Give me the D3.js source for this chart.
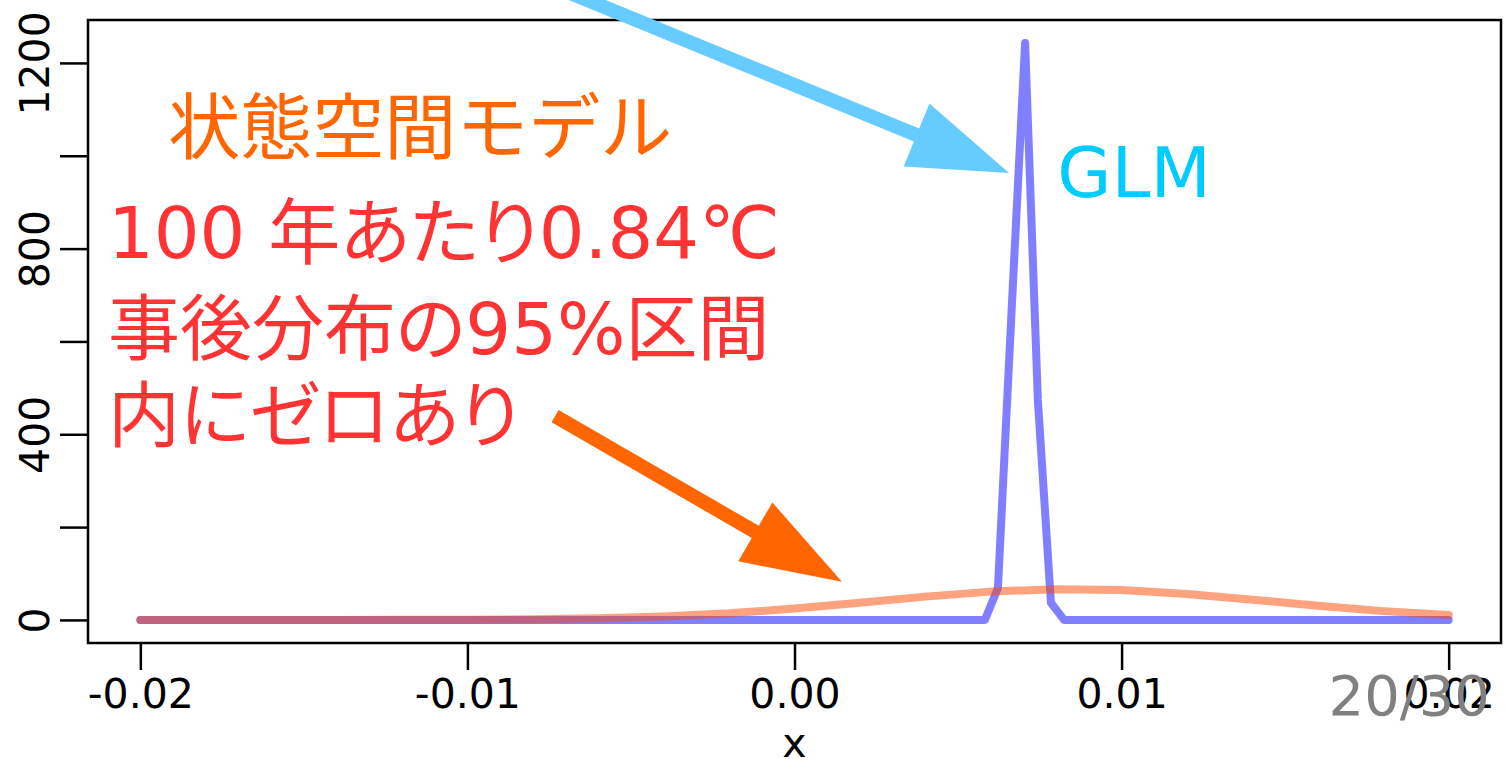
<!DOCTYPE html>
<html>
<head>
<meta charset="utf-8">
<script src="https://cdn.jsdelivr.net/npm/d3@7"></script>
<style>
  body { margin: 0; background: #fff; }
  svg { display: block; }
</style>
</head>
<body>
<svg id="paper"></svg>
<script>
// GLM: posterior of the trend, sharp spike
const glmX = [-0.02, 0.00582, 0.00622, 0.00663, 0.00705, 0.00744, 0.00784, 0.00824, 0.02];
const glmY = [0, 0, 69, 656, 1243, 474, 37, 0, 0];

// state space model: wide posterior
const ssmX = [-0.02, -0.018, -0.016, -0.014, -0.012, -0.01, -0.008, -0.006, -0.004, -0.002,
  0, 0.002, 0.004, 0.006, 0.008, 0.01, 0.012, 0.014, 0.016, 0.018, 0.02];
const ssmY = [0, 0, 0, 0.1, 0.2, 0.6, 1.5, 3.6, 7.6, 14.4,
  24.4, 37, 50.2, 61, 66.3, 64.4, 56.1, 43.7, 30.4, 19, 10.6];

const xTicks = [-0.02, -0.01, 0, 0.01, 0.02];
const yTicks = [0, 200, 400, 600, 800, 1000, 1200];
const yLabels = [0, 400, 800, 1200];

// annotations, in data units
const arrows = [
  {from: [-0.0076, 1372], to: [0.00656, 963], color: "#66ccff"},
  {from: [-0.00732, 439], to: [0.00145, 82], color: "#ff6600"},
];
const labels = [
  {text: "GLM", at: [0.00803, 911], color: "#00ccff", kind: "latin"},
  {text: "状態空間モデル", at: [-0.01915, 1006], color: "#ff6600", kind: "cjk"},
  {text: "100 年あたり0.84℃", at: [-0.02099, 780], color: "#ff3333", kind: "mixed"},
  {text: "事後分布の95%区間", at: [-0.02099, 573], color: "#ff3333", kind: "mixed"},
  {text: "内にゼロあり", at: [-0.02099, 386], color: "#ff3333", kind: "mixed"},
];

const W = 1505, H = 763;
const box = {left: 88, top: 20, right: 1501, bottom: 643};

const svg = d3.select("#paper")
  .attr("width", W)
  .attr("height", H);

svg.append("rect")
  .attr("width", W)
  .attr("height", H)
  .attr("fill", "#fff");

const x = d3.scaleLinear().domain([-0.0216, 0.0216]).range([box.left, box.right]);
const y = d3.scaleLinear().domain([-49.7, 1292.5]).range([box.bottom, box.top]);

const axisFont = "'DejaVu Sans', sans-serif";

// x axis
const gx = svg.append("g")
  .attr("transform", "translate(0," + box.bottom + ")")
  .call(d3.axisBottom(x).tickValues(xTicks).tickSize(27).tickPadding(9)
    .tickFormat((d) => d.toFixed(2)));
gx.select(".domain").remove();
gx.selectAll(".tick line").attr("stroke", "#000").attr("stroke-width", 2.5);
gx.selectAll(".tick text")
  .attr("font-family", axisFont)
  .attr("font-size", 41)
  .attr("fill", "#000");

// y axis
const gy = svg.append("g")
  .attr("transform", "translate(" + box.left + ",0)")
  .call(d3.axisLeft(y).tickValues(yTicks).tickSize(28)
    .tickFormat((d) => yLabels.includes(d) ? d : ""));
gy.select(".domain").remove();
gy.selectAll(".tick line").attr("stroke", "#000").attr("stroke-width", 2.5);
gy.selectAll(".tick text")
  .attr("font-family", axisFont)
  .attr("font-size", 41)
  .attr("fill", "#000")
  .attr("x", null)
  .attr("dy", null)
  .attr("text-anchor", "middle")
  .attr("transform", "translate(-39,0) rotate(-90)");

svg.append("text")
  .attr("x", (x(-0.0216) + x(0.0216)) / 2)
  .attr("y", 757)
  .attr("text-anchor", "middle")
  .attr("font-family", axisFont)
  .attr("font-size", 41)
  .text("x");

// curves
const line = d3.line()
  .x((d) => x(d[0]))
  .y((d) => y(d[1]));

svg.append("path")
  .datum(d3.zip(glmX, glmY))
  .attr("d", line)
  .attr("fill", "none")
  .attr("stroke", "rgba(0,0,255,0.5)")
  .attr("stroke-width", 8)
  .attr("stroke-linecap", "round")
  .attr("stroke-linejoin", "round");

svg.append("path")
  .datum(d3.zip(ssmX, ssmY))
  .attr("d", line)
  .attr("fill", "none")
  .attr("stroke", "rgba(255,69,0,0.5)")
  .attr("stroke-width", 8)
  .attr("stroke-linecap", "round")
  .attr("stroke-linejoin", "round");

// box
svg.append("rect")
  .attr("x", box.left)
  .attr("y", box.top)
  .attr("width", box.right - box.left)
  .attr("height", box.bottom - box.top)
  .attr("fill", "none")
  .attr("stroke", "#000")
  .attr("stroke-width", 2.5);

// arrows
const headLen = 100, headHalf = 34, shaft = 14;
arrows.forEach((a) => {
  const x0 = x(a.from[0]), y0 = y(a.from[1]);
  const x1 = x(a.to[0]), y1 = y(a.to[1]);
  const len = Math.hypot(x1 - x0, y1 - y0);
  const ux = (x1 - x0) / len, uy = (y1 - y0) / len;
  const bx = x1 - ux * headLen, by = y1 - uy * headLen;
  svg.append("line")
    .attr("x1", x0).attr("y1", y0)
    .attr("x2", bx + ux * 4).attr("y2", by + uy * 4)
    .attr("stroke", a.color)
    .attr("stroke-width", shaft);
  svg.append("polygon")
    .attr("points", [
      [x1, y1],
      [bx - uy * headHalf, by + ux * headHalf],
      [bx + uy * headHalf, by - ux * headHalf],
    ].map((p) => p.join(",")).join(" "))
    .attr("fill", a.color);
});

// labels
const fonts = {
  latin: {family: "'DejaVu Sans', sans-serif", size: 70, feat: "normal"},
  cjk: {family: "'Noto Sans CJK JP', sans-serif", size: 72, feat: "normal"},
  mixed: {family: "'DejaVu Sans', 'Noto Sans CJK JP', sans-serif", size: 72, feat: "'palt' 1"},
};
svg.selectAll(".note")
  .data(labels)
  .enter()
  .append("text")
  .attr("class", "note")
  .attr("x", (d) => x(d.at[0]))
  .attr("y", (d) => y(d.at[1]))
  .attr("font-family", (d) => fonts[d.kind].family)
  .attr("font-size", (d) => fonts[d.kind].size)
  .style("font-feature-settings", (d) => fonts[d.kind].feat)
  .attr("fill", (d) => d.color)
  .text((d) => d.text);

// page number
svg.append("text")
  .attr("x", 1490)
  .attr("y", 715)
  .attr("text-anchor", "end")
  .attr("font-family", axisFont)
  .attr("font-size", 56)
  .attr("fill", "#808080")
  .text("20/30");
</script>
</body>
</html>
